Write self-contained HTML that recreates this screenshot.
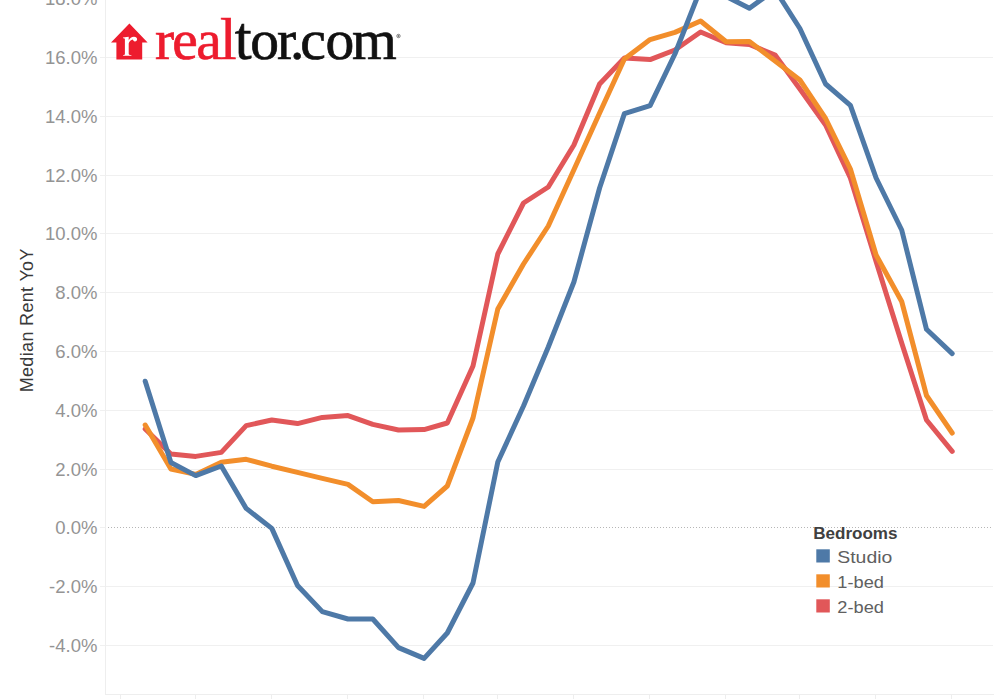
<!DOCTYPE html>
<html><head><meta charset="utf-8"><title>Median Rent YoY</title>
<style>
html,body{margin:0;padding:0;background:#fff;}
body{width:1000px;height:700px;overflow:hidden;font-family:"Liberation Sans",sans-serif;}
svg{display:block;position:absolute;left:0;top:0;}
.g{stroke:#f0f0f0;stroke-width:1;}
.ax{stroke:#eeeeee;stroke-width:1;}
.yl{font-family:"Liberation Sans",sans-serif;font-size:18.5px;fill:#949494;text-anchor:end;letter-spacing:0px;}
.ln{fill:none;stroke-width:5;stroke-linecap:round;stroke-linejoin:round;}
.lg{font-family:"Liberation Sans",sans-serif;font-size:17px;fill:#606060;}
</style></head><body>
<svg width="1000" height="700" viewBox="0 0 1000 700">
<rect width="1000" height="700" fill="#fff"/>
<line x1="100" x2="993" y1="-1.5" y2="-1.5" class="g"/>
<line x1="100" x2="993" y1="57.5" y2="57.5" class="g"/>
<line x1="100" x2="993" y1="116.5" y2="116.5" class="g"/>
<line x1="100" x2="993" y1="175.5" y2="175.5" class="g"/>
<line x1="100" x2="993" y1="233.5" y2="233.5" class="g"/>
<line x1="100" x2="993" y1="292.5" y2="292.5" class="g"/>
<line x1="100" x2="993" y1="351.5" y2="351.5" class="g"/>
<line x1="100" x2="993" y1="410.5" y2="410.5" class="g"/>
<line x1="100" x2="993" y1="469.5" y2="469.5" class="g"/>
<line x1="100" x2="105" y1="527.5" y2="527.5" class="g"/>
<line x1="100" x2="993" y1="586.5" y2="586.5" class="g"/>
<line x1="100" x2="993" y1="645.5" y2="645.5" class="g"/>
<line x1="105.5" x2="105.5" y1="0" y2="694" class="ax"/>
<line x1="105" x2="994" y1="694.5" y2="694.5" class="ax"/>
<line x1="120.5" x2="120.5" y1="695" y2="699" class="ax"/>
<line x1="195.5" x2="195.5" y1="695" y2="699" class="ax"/>
<line x1="271.5" x2="271.5" y1="695" y2="699" class="ax"/>
<line x1="347.5" x2="347.5" y1="695" y2="699" class="ax"/>
<line x1="423.5" x2="423.5" y1="695" y2="699" class="ax"/>
<line x1="497.5" x2="497.5" y1="695" y2="699" class="ax"/>
<line x1="573.5" x2="573.5" y1="695" y2="699" class="ax"/>
<line x1="649.5" x2="649.5" y1="695" y2="699" class="ax"/>
<line x1="725.5" x2="725.5" y1="695" y2="699" class="ax"/>
<line x1="799.5" x2="799.5" y1="695" y2="699" class="ax"/>
<line x1="875.5" x2="875.5" y1="695" y2="699" class="ax"/>
<line x1="951.5" x2="951.5" y1="695" y2="699" class="ax"/>
<line x1="108" x2="993" y1="527.5" y2="527.5" stroke="#b6b6b6" stroke-width="1" stroke-dasharray="1 2" shape-rendering="crispEdges"/>
<text x="97.4" y="4.9" class="yl">18.0%</text>
<text x="97.4" y="63.9" class="yl">16.0%</text>
<text x="97.4" y="122.9" class="yl">14.0%</text>
<text x="97.4" y="181.9" class="yl">12.0%</text>
<text x="97.4" y="239.9" class="yl">10.0%</text>
<text x="97.4" y="298.9" class="yl">8.0%</text>
<text x="97.4" y="357.9" class="yl">6.0%</text>
<text x="97.4" y="416.9" class="yl">4.0%</text>
<text x="97.4" y="475.9" class="yl">2.0%</text>
<text x="97.4" y="533.9" class="yl">0.0%</text>
<text x="97.4" y="592.9" class="yl">-2.0%</text>
<text x="97.4" y="651.9" class="yl">-4.0%</text>
<text transform="translate(32.8,392.3) rotate(-90)" style="font-family:'Liberation Sans',sans-serif;font-size:18px;fill:#3a3a3a;letter-spacing:0.33px">Median Rent YoY</text>
<polyline class="ln" stroke="#e15759" points="145.2,429.0 170.9,454.0 195.7,456.4 221.3,452.4 246.2,425.6 271.8,420.0 297.5,423.6 322.3,417.4 348.0,415.6 372.8,424.4 398.5,430.0 424.1,429.6 447.3,423.0 473.0,366.0 497.8,254.0 523.5,203.0 548.3,187.0 573.9,145.0 599.6,84.0 624.4,58.0 650.1,59.6 674.9,50.0 700.6,32.0 726.2,42.8 749.4,44.4 775.1,55.0 799.9,89.0 825.6,125.0 850.4,178.0 876.1,261.5 901.7,343.0 926.5,420.0 952.2,451.3"/>
<polyline class="ln" stroke="#f28e2b" points="145.2,425.0 170.9,469.0 195.7,474.4 221.3,462.2 246.2,459.3 271.8,466.2 297.5,472.4 322.3,478.4 348.0,484.4 372.8,501.8 398.5,500.5 424.1,506.4 447.3,486.0 473.0,418.0 497.8,309.0 523.5,264.0 548.3,226.0 573.9,169.8 599.6,113.0 624.4,59.0 650.1,39.6 674.9,32.4 700.6,21.0 726.2,41.8 749.4,41.5 775.1,61.0 799.9,80.0 825.6,118.5 850.4,169.0 876.1,255.0 901.7,301.5 926.5,395.5 952.2,433.0"/>
<polyline class="ln" stroke="#4e79a7" points="145.2,381.2 170.9,462.5 195.7,475.6 221.3,466.0 246.2,508.4 271.8,528.4 297.5,585.5 322.3,611.6 348.0,619.0 372.8,619.0 398.5,647.6 424.1,658.4 447.3,633.0 473.0,583.0 497.8,462.0 523.5,406.0 548.3,347.0 573.9,282.0 599.6,188.0 624.4,113.6 650.1,105.6 674.9,54.0 700.6,-11.0 726.2,-3.5 749.4,8.2 775.1,-10.3 799.9,28.5 825.6,84.0 850.4,105.3 876.1,178.0 901.7,230.0 926.5,329.3 952.2,353.6"/>
<!-- logo -->
<g id="logo">
<path d="M129.4 23.6 L147.6 42.4 L142.2 42.4 L142.2 59.6 L116.4 59.6 L116.4 42.4 L111 42.4 Z" fill="#ed1c2e"/>
<path d="M123 37.5 L128.7 36.7 L128.7 40.4 C129.6 38.4 131.6 36.7 134 36.7 C136 36.7 137.1 37.8 137.1 39.3 C137.1 40.6 136.2 41.5 135 41.5 C133.8 41.5 133.2 40.7 132.8 39.6 C131 39.9 129.3 41.6 128.7 43.6 L128.7 53.5 C128.7 54.6 129.3 55 131.5 55.2 L131.5 55.8 L123 55.8 L123 55.2 C124.6 55 124.9 54.6 124.9 53.5 L124.9 39.6 C124.9 38.5 124.5 38.2 123 38.2 Z" fill="#fff"/>
<text y="59.2" x="155.1 172.3 196.15 220.1" style="font-family:'Liberation Serif',serif;font-size:57.5px;fill:#ed1c2e;stroke:#ed1c2e;stroke-width:0.7px">rea<tspan style="font-size:59.5px">l</tspan></text>
<text y="59.2" x="234.8 250.3 276.9 289.95 300.25 325.5 352.0" style="font-family:'Liberation Serif',serif;font-size:57.5px;fill:#111;stroke:#111;stroke-width:0.7px"><tspan style="font-size:60.5px">t</tspan>or.com</text>
<circle cx="398.5" cy="36" r="1.7" fill="none" stroke="#333" stroke-width="0.6"/>
<circle cx="398.5" cy="36" r="0.7" fill="#333"/>
</g>
<!-- legend -->
<text x="813.2" y="539.4" textLength="84.3" lengthAdjust="spacingAndGlyphs" style="font-family:'Liberation Sans',sans-serif;font-weight:bold;font-size:16px;fill:#404040">Bedrooms</text>
<rect x="816.3" y="549.3" width="13.5" height="13.2" fill="#4e79a7"/>
<rect x="816.3" y="574.3" width="13.5" height="13.2" fill="#f28e2b"/>
<rect x="816.3" y="599.3" width="13.5" height="13.2" fill="#e15759"/>
<text x="837.3" y="563" class="lg" textLength="55" lengthAdjust="spacingAndGlyphs">Studio</text>
<text x="837.3" y="588" class="lg" textLength="46.6" lengthAdjust="spacingAndGlyphs">1-bed</text>
<text x="837.3" y="613" class="lg" textLength="46.6" lengthAdjust="spacingAndGlyphs">2-bed</text>
</svg>
</body></html>
